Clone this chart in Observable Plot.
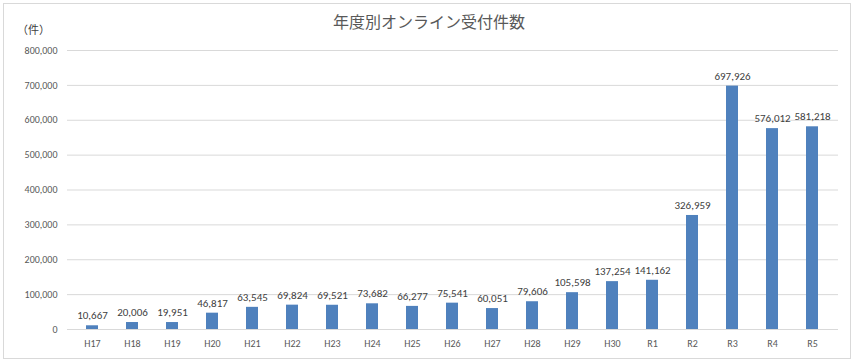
<!DOCTYPE html>
<html>
<head>
<meta charset="utf-8">
<script src="https://cdn.jsdelivr.net/npm/d3@7"></script>
<script src="https://cdn.jsdelivr.net/npm/@observablehq/plot@0.6"></script>
<style>
  html, body { margin: 0; padding: 0; background: #fff; }
  #wrap { position: relative; width: 858px; height: 363px; overflow: hidden; font-family: "Noto Sans CJK JP", "Noto Sans", sans-serif; }
  #frame { position: absolute; left: 3px; top: 3px; width: 848px; height: 356px; border: 1px solid #d9d9d9; box-sizing: border-box; pointer-events: none; }
  #title { position: absolute; left: 0; width: 858px; top: 11px; text-align: center; font-size: 16px; color: #595959; line-height: 20px; }
  #unit { position: absolute; left: 17px; top: 22px; font-size: 11px; color: #404040; line-height: 14px; }
  #chart { position: absolute; left: 0; top: 0; }
</style>
</head>
<body>
<div id="wrap">
  <div id="chart"></div>
  <div id="frame"></div>
  <div id="title">年度別オンライン受付件数</div>
  <div id="unit">（件）</div>
</div>
<script>
const years = ["H17","H18","H19","H20","H21","H22","H23","H24","H25","H26","H27","H28","H29","H30","R1","R2","R3","R4","R5"];
const counts = [10667,20006,19951,46817,63545,69824,69521,73682,66277,75541,60051,79606,105598,137254,141162,326959,697926,576012,581218];
const yTicks = [0,100000,200000,300000,400000,500000,600000,700000,800000];

const data = years.map((y, i) => ({year: y, count: counts[i]}));
const fmt = d3.format(",");

const chart = Plot.plot({
  width: 858,
  height: 363,
  marginLeft: 67,
  marginRight: 20,
  marginTop: 50,
  marginBottom: 34,
  style: { fontFamily: "Calibri, 'Liberation Sans', 'DejaVu Sans', sans-serif", fontSize: "10px", color: "#595959", background: "transparent" },
  x: { domain: years, paddingInner: 0.69, paddingOuter: 0.345, label: null, tickSize: 0, tickPadding: 10 },
  y: { domain: [0, 800000], ticks: yTicks, tickFormat: fmt, label: null, tickSize: 0, tickPadding: 10 },
  marks: [
    Plot.gridY(yTicks, { stroke: "#d9d9d9", strokeOpacity: 1 }),
    Plot.barY(data, { x: "year", y: "count", fill: "#4f81bd" }),
    Plot.text(data, { x: "year", y: "count", text: d => fmt(d.count), dy: -10, fill: "#404040", fontSize: 11 })
  ]
});
document.getElementById("chart").appendChild(chart);
</script>
</body>
</html>
